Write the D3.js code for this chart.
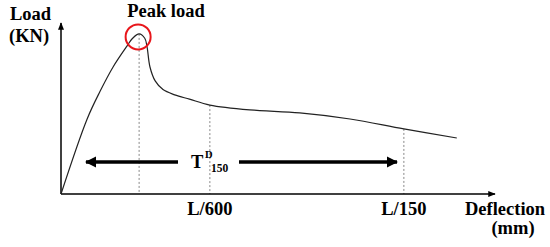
<!DOCTYPE html>
<html>
<head>
<style>
body { margin: 0; background: #fff; }
.curve { fill: none; stroke: #222; stroke-width: 1.2; }
.guide { stroke: #888; stroke-width: 1; stroke-dasharray: 2,2; }
.axis-line { stroke: #000; stroke-width: 1.5; }
</style>
<script src="https://d3js.org/d3.v7.min.js"></script>
</head>
<body>
<svg width="550" height="247"></svg>
<script>
// load-deflection curve (schematic units)
var deflection = [0, 0.6, 0.9, 1.2, 1.52, 1.65, 1.8, 1.93, 1.98, 2.05, 2.17, 2.35, 2.62, 2.96, 3.43, 4.35, 5.5, 6.66, 7.9, 9.12];
var load = [0, 4.3, 5.9, 7.3, 8.5, 8.95, 9.2, 8.95, 8.5, 7.3, 6.5, 6.0, 5.7, 5.45, 5.11, 4.83, 4.66, 4.31, 3.74, 3.22];

// dashed guides: peak, L/600, L/150
var markerDeflection = [1.8, 3.43, 7.9];
var markerLoad = [9.2, 5.11, 3.74];
var markerLabels = ["", "L/600", "L/150"];

var FONT = "Liberation Serif";
var FS = 18.5;

var svg = d3.select("svg");

function label(txt, px, py, anchor) {
  return svg.append("text")
    .attr("x", px).attr("y", py)
    .attr("font-family", FONT).attr("font-weight", "bold").attr("font-size", FS)
    .attr("text-anchor", anchor || "start")
    .text(txt);
}

var x = d3.scaleLinear().domain([0, 10]).range([61, 495]);
var y = d3.scaleLinear().domain([0, 10]).range([194, 20]);

// arrow markers
var defs = svg.append("defs");
defs.append("marker")
  .attr("id", "axisHead")
  .attr("viewBox", "0 0 10 10")
  .attr("refX", 9).attr("refY", 5)
  .attr("markerWidth", 5).attr("markerHeight", 5)
  .attr("markerUnits", "strokeWidth")
  .attr("orient", "auto")
  .append("path").attr("d", "M0,1 L10,5 L0,9 Z").attr("fill", "#000");
defs.append("marker")
  .attr("id", "bigHead")
  .attr("viewBox", "0 0 10 10")
  .attr("refX", 9).attr("refY", 5)
  .attr("markerWidth", 3.2).attr("markerHeight", 3.2)
  .attr("markerUnits", "strokeWidth")
  .attr("orient", "auto")
  .append("path").attr("d", "M0,0 L10,5 L0,10 Z").attr("fill", "#000");

// guides
svg.selectAll(".guide")
  .data(markerDeflection)
  .enter().append("line")
  .attr("class", "guide")
  .attr("x1", function(d) { return x(d); })
  .attr("x2", function(d) { return x(d); })
  .attr("y1", function(d, i) { return y(markerLoad[i]); })
  .attr("y2", y(0));

// axes
svg.append("line").attr("class", "axis-line")
  .attr("x1", x(0)).attr("y1", y(0)).attr("x2", x(0)).attr("y2", 23)
  .attr("marker-end", "url(#axisHead)");
svg.append("line").attr("class", "axis-line")
  .attr("x1", x(0)).attr("y1", y(0)).attr("x2", x(10)).attr("y2", y(0))
  .attr("marker-end", "url(#axisHead)");

// curve
var line = d3.line()
  .x(function(d, i) { return x(deflection[i]); })
  .y(function(d) { return y(d); })
  .curve(d3.curveCatmullRom.alpha(0.5));
svg.append("path").attr("class", "curve").attr("d", line(load));

// peak circle
svg.append("circle")
  .attr("cx", x(markerDeflection[0]) - 1)
  .attr("cy", y(markerLoad[0]) + 3)
  .attr("r", 12.5)
  .attr("fill", "none").attr("stroke", "#e8161b").attr("stroke-width", 2);

label("Peak load", 166, 17, "middle");
label("Load", 10, 20);
label("(KN)", 9, 42);

// x labels
markerLabels.forEach(function(d, i) {
  if (d) label(d, x(markerDeflection[i]), 215, "middle");
});
label("Deflection", 505, 215, "middle");
label("(mm)", 513, 234, "middle");

// T^D_150 double arrow
var ay = 162;
svg.append("line").attr("x1", 178).attr("y1", ay).attr("x2", 86).attr("y2", ay)
  .attr("stroke", "#000").attr("stroke-width", 3.5).attr("marker-end", "url(#bigHead)");
svg.append("line").attr("x1", 239).attr("y1", ay).attr("x2", 397).attr("y2", ay)
  .attr("stroke", "#000").attr("stroke-width", 3.5).attr("marker-end", "url(#bigHead)");
var t = label("T", 191, 168);
t.append("tspan").attr("x", 205).attr("y", 158).attr("font-size", 10.5).text("D");
t.append("tspan").attr("x", 211).attr("y", 172).attr("font-size", 11.5).text("150");
</script>
</body>
</html>
